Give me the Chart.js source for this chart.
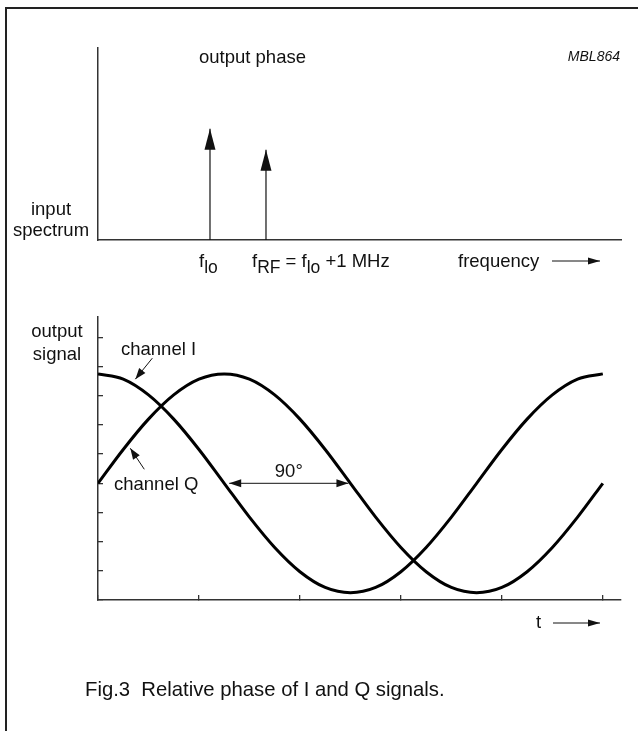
<!DOCTYPE html>
<html>
<head>
<meta charset="utf-8">
<script src="https://cdn.jsdelivr.net/npm/chart.js@4.4.0/dist/chart.umd.min.js"></script>
<style>
  body { margin: 0; background: #fff; }
  #wrap { position: relative; width: 638px; height: 731px; overflow: hidden; }
  #wrap canvas { position: absolute; left: 0; top: 0; }
  #frame { position: absolute; left: 5px; top: 7px; width: 700px; height: 800px;
           border-top: 2px solid #222; border-left: 2px solid #222; }
</style>
</head>
<body>
<div id="wrap">
  <div id="frame"></div>
  <canvas id="spectrum" width="638" height="731"></canvas>
  <canvas id="signals" width="638" height="731"></canvas>
</div>
<script>
// top panel: input spectrum (x in MHz, amplitude arbitrary)
const lineNames = ['f_lo', 'f_RF'];
const lineFreqs = [2, 3];
const lineAmps = [5.8, 4.7];

// bottom panel: output signals, t in tick units (one period = 5 ticks)
const tValues = [0, 0.25, 0.5, 0.75, 1, 1.25, 1.5, 1.75, 2, 2.25, 2.5, 2.75, 3, 3.25, 3.5, 3.75, 4, 4.25, 4.5, 4.75, 5];
const channelI = [7.75, 7.57, 7.03, 6.2, 5.16, 4.0, 2.84, 1.8, 0.97, 0.43, 0.25, 0.43, 0.97, 1.8, 2.84, 4.0, 5.16, 6.2, 7.03, 7.57, 7.75];
const channelQ = [4.0, 5.16, 6.2, 7.03, 7.57, 7.75, 7.57, 7.03, 6.2, 5.16, 4.0, 2.84, 1.8, 0.97, 0.43, 0.25, 0.43, 0.97, 1.8, 2.84, 4.0];

const FONT = "'Liberation Sans', Arial, sans-serif";
const INK = '#111';
const AXIS = '#333';

function arrowHead(ctx, x, y, dx, dy, len, half) {
    const l = Math.hypot(dx, dy);
    const ux = dx / l, uy = dy / l;
    const bx = x - ux * len, by = y - uy * len;
    ctx.beginPath();
    ctx.moveTo(x, y);
    ctx.lineTo(bx - uy * half, by + ux * half);
    ctx.lineTo(bx + uy * half, by - ux * half);
    ctx.closePath();
    ctx.fill();
}

function arrow(ctx, x1, y1, x2, y2, len, half) {
    ctx.beginPath();
    ctx.moveTo(x1, y1);
    ctx.lineTo(x2, y2);
    ctx.stroke();
    arrowHead(ctx, x2, y2, x2 - x1, y2 - y1, len, half);
}

function text(ctx, s, x, y, size, align, style) {
    ctx.font = (style || '') + ' ' + size + 'px ' + FONT;
    ctx.textAlign = align || 'left';
    ctx.textBaseline = 'alphabetic';
    ctx.fillText(s, x, y);
    return ctx.measureText(s).width;
}

// text with subscripts: parts = [[str, isSub], ...]
function richText(ctx, parts, x, y) {
    let cx = x;
    parts.forEach(p => {
        cx += text(ctx, p[0], cx, p[1] ? y + 6 : y, p[1] ? 17.5 : 18.5);
    });
}

const noSize = {
    x: s => { s.height = 0; },
    y: s => { s.width = 0; }
};

// ---------- top chart ----------
const spectrumLabels = {
    id: 'spectrumLabels',
    afterDraw(chart) {
        const ctx = chart.ctx;
        ctx.save();
        ctx.fillStyle = INK;
        ctx.strokeStyle = INK;
        ctx.lineWidth = 1;
        chart.data.datasets.forEach((ds, i) => {
            const pts = chart.getDatasetMeta(i).data;
            const top = pts[pts.length - 1];
            arrowHead(ctx, top.x, top.y, 0, -1, 21, 5.5);
        });
        const xs = chart.scales.x;
        text(ctx, 'output phase', 199, 63, 18.5);
        text(ctx, 'MBL864', 620, 61, 14, 'right', 'italic');
        text(ctx, 'input', 51, 215, 18.5, 'center');
        text(ctx, 'spectrum', 51, 236, 18.5, 'center');
        richText(ctx, [['f', false], ['lo', true]], xs.getPixelForValue(lineFreqs[0]) - 11, 267);
        richText(ctx, [['f', false], ['RF', true], [' = f', false], ['lo', true], [' +1 MHz', false]],
            xs.getPixelForValue(lineFreqs[1]) - 14, 267);
        text(ctx, 'frequency', 458, 267, 18.5);
        arrow(ctx, 552, 261, 600, 261, 12, 3.5);
        ctx.restore();
    }
};

new Chart(document.getElementById('spectrum'), {
    type: 'line',
    data: {
        datasets: lineFreqs.map((f, i) => ({
            label: lineNames[i],
            data: [{ x: f, y: 0 }, { x: f, y: lineAmps[i] }],
            borderColor: INK,
            borderWidth: 1.2,
            pointRadius: 0
        }))
    },
    options: {
        responsive: false,
        animation: false,
        devicePixelRatio: 1,
        layout: { padding: { left: 98, top: 48, right: 17, bottom: 491 } },
        plugins: { legend: { display: false }, tooltip: { enabled: false } },
        scales: {
            x: {
                type: 'linear', min: 0, max: 9.34,
                ticks: { display: false },
                grid: { display: false },
                border: { display: true, color: AXIS, width: 1.5 },
                afterFit: noSize.x
            },
            y: {
                min: 0, max: 10,
                ticks: { display: false },
                grid: { display: false },
                border: { display: true, color: AXIS, width: 1.5 },
                afterFit: noSize.y
            }
        }
    },
    plugins: [spectrumLabels]
});

// ---------- bottom chart ----------
const signalLabels = {
    id: 'signalLabels',
    afterDraw(chart) {
        const ctx = chart.ctx;
        const xs = chart.scales.x, ys = chart.scales.y;
        ctx.save();
        ctx.fillStyle = INK;
        ctx.strokeStyle = INK;
        ctx.lineWidth = 1;
        text(ctx, 'output', 57, 337, 18.5, 'center');
        text(ctx, 'signal', 57, 360, 18.5, 'center');
        text(ctx, 'channel I', 121, 355, 18.5);
        text(ctx, 'channel Q', 114, 490, 18.5);

        // pointers to the curves
        const ix = xs.getPixelForValue(0.37), iy = ys.getPixelForValue(7.57);
        arrow(ctx, ix + 17, iy - 21, ix, iy, 11, 4);
        const qx = xs.getPixelForValue(0.32), qy = ys.getPixelForValue(5.2);
        arrow(ctx, qx + 14, qy + 21, qx, qy, 11, 4);

        // 90 degree phase difference
        const yMid = ys.getPixelForValue(4);
        const xa = xs.getPixelForValue(1.25) + 5;
        const xb = xs.getPixelForValue(2.5) - 2;
        ctx.beginPath();
        ctx.moveTo(xa, yMid);
        ctx.lineTo(xb, yMid);
        ctx.stroke();
        arrowHead(ctx, xa, yMid, -1, 0, 12, 4);
        arrowHead(ctx, xb, yMid, 1, 0, 12, 4);
        text(ctx, '90°', (xa + xb) / 2, yMid - 6, 18.5, 'center');

        text(ctx, 't', 536, 628, 18.5);
        arrow(ctx, 553, 623, 600, 623, 12, 3.5);

        text(ctx, 'Fig.3  Relative phase of I and Q signals.', 85, 696, 20.3);
        ctx.restore();
    }
};

const curve = (label, values) => ({
    label: label,
    data: tValues.map((t, i) => ({ x: t, y: values[i] })),
    borderColor: '#000',
    borderWidth: 3,
    pointRadius: 0,
    cubicInterpolationMode: 'monotone',
    fill: false
});

new Chart(document.getElementById('signals'), {
    type: 'line',
    data: {
        datasets: [curve('channel I', channelI), curve('channel Q', channelQ)]
    },
    options: {
        responsive: false,
        animation: false,
        devicePixelRatio: 1,
        layout: { padding: { left: 98, top: 317, right: 17, bottom: 131 } },
        plugins: { legend: { display: false }, tooltip: { enabled: false } },
        scales: {
            x: {
                type: 'linear', min: 0, max: 5.18,
                ticks: { display: false, stepSize: 1, includeBounds: false },
                grid: { display: true, drawOnChartArea: false, drawTicks: true, tickLength: -5, color: '#333', lineWidth: 1.3 },
                border: { display: true, color: AXIS, width: 1.5 },
                afterFit: noSize.x
            },
            y: {
                min: 0, max: 9.7,
                ticks: { display: false, stepSize: 1, includeBounds: false },
                grid: { display: true, drawOnChartArea: false, drawTicks: true, tickLength: -5, color: '#333', lineWidth: 1.3 },
                border: { display: true, color: AXIS, width: 1.5 },
                afterFit: noSize.y
            }
        }
    },
    plugins: [signalLabels]
});
</script>
</body>
</html>
